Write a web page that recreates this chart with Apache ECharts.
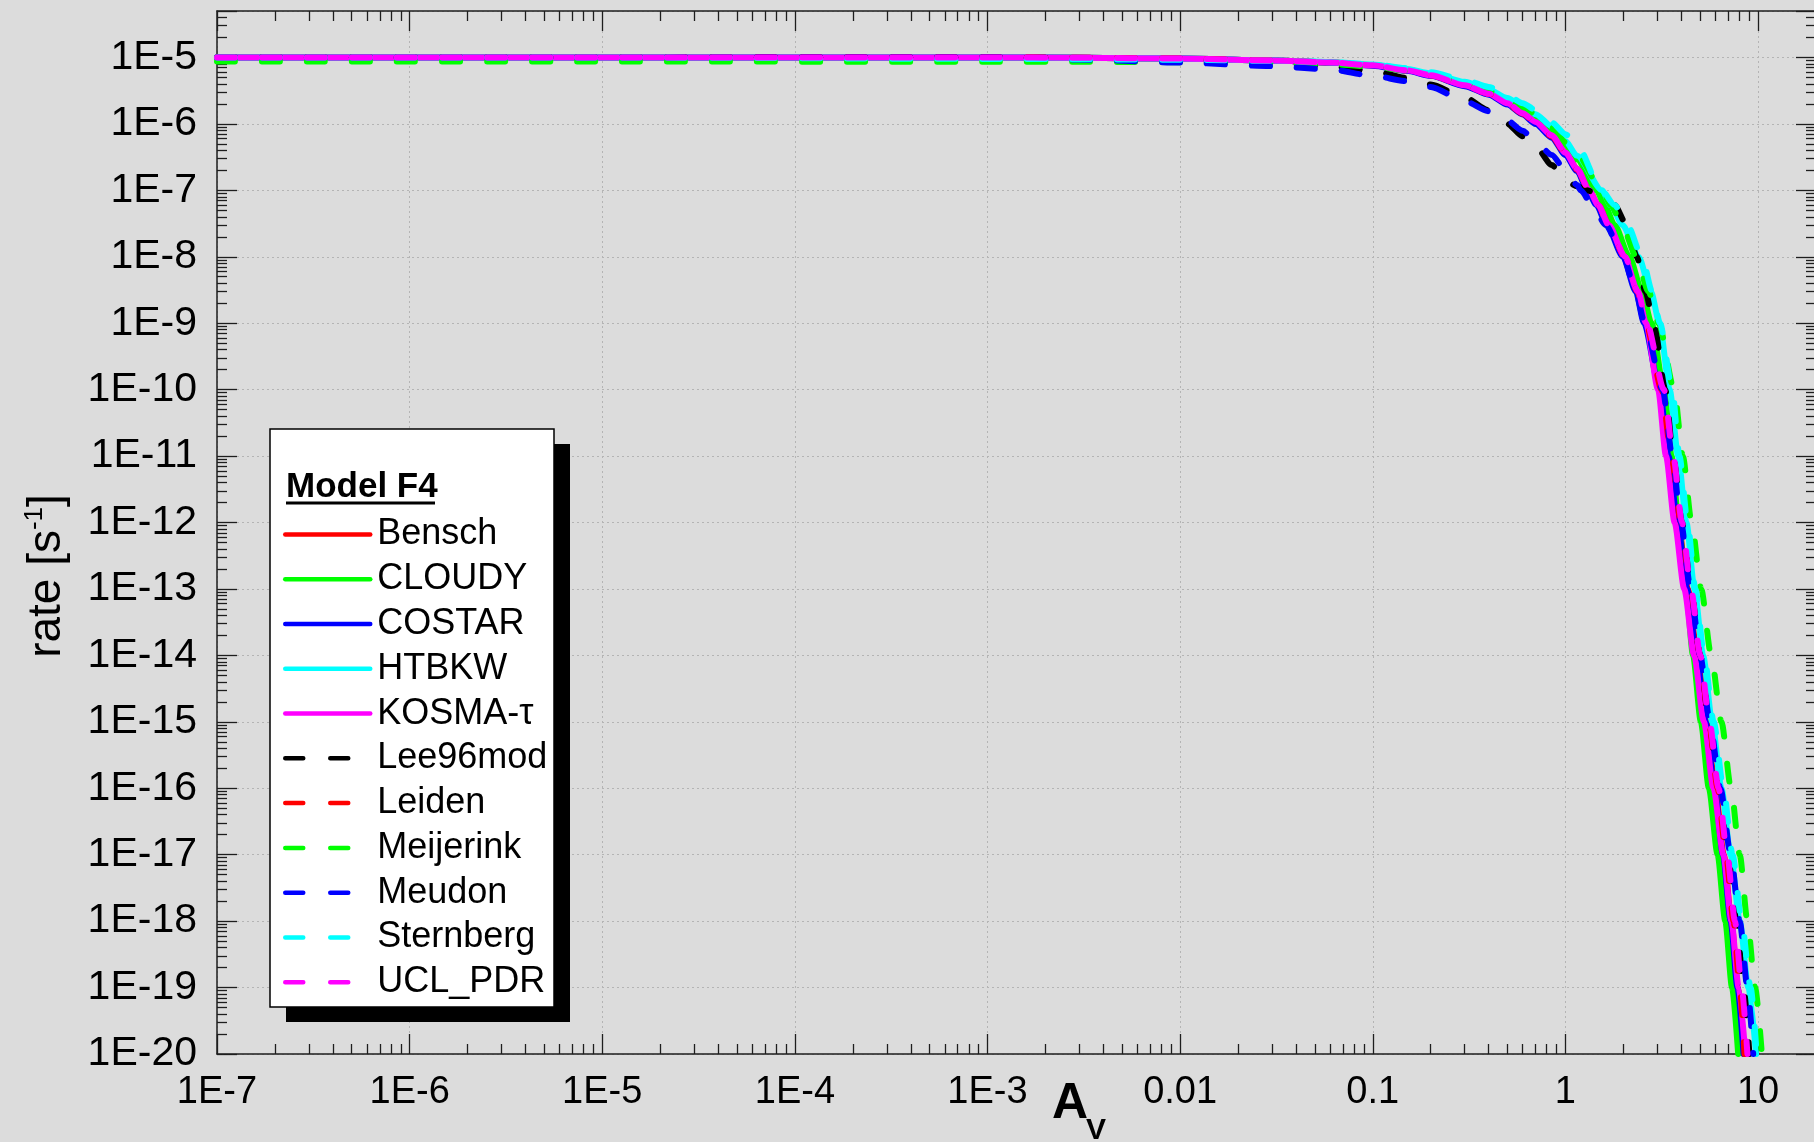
<!DOCTYPE html>
<html>
<head>
<meta charset="utf-8">
<script src="https://cdn.jsdelivr.net/npm/echarts@6/dist/echarts.min.js"></script>
<style>
html,body{margin:0;padding:0;background:#dcdcdc;}
#chart{width:1814px;height:1142px;}
</style>
</head>
<body>
<div id="chart"></div>
<script>
// ---------------- data ----------------
const seriesNames = ['Bensch','CLOUDY','COSTAR','HTBKW','KOSMA-τ','Lee96mod','Leiden','Meijerink','Meudon','Sternberg','UCL_PDR'];
const seriesColors = ['#ff0000','#00ff00','#0000ff','#00ffff','#ff00ff','#000000','#ff0000','#00ff00','#0000ff','#00ffff','#ff00ff'];
const seriesDashed = [false,false,false,false,false,true,true,true,true,true,true];

// A_V sample points of the flat (upper) part of every curve
const avFlat = [1e-7, 1e-5, 1e-3, 0.003, 0.01, 0.03, 0.06, 0.1, 0.15, 0.2, 0.3, 0.4, 0.5, 0.6, 0.7, 0.85, 1.0, 1.15];
// rate levels of the steep (lower) part of every curve
const rateSteep = [1e-7, 6e-8, 3e-8, 1e-8, 3e-9, 1e-9, 1e-10, 1e-11, 1e-12, 1e-13, 1e-14, 1e-15, 1e-16, 1e-17, 1e-18, 1e-19, 1e-20];

// rate at avFlat
const benschFlat    = [1.0e-5, 1.0e-5, 1.0e-5, 9.9e-6, 9.6e-6, 9.0e-6, 8.4e-6, 7.6e-6, 6.4e-6, 5.4e-6, 3.8e-6, 2.85e-6, 2.05e-6, 1.45e-6, 1.07e-6, 6.7e-7, 3.7e-7, 2.1e-7];
const cloudyFlat    = [1.0e-5, 1.0e-5, 1.0e-5, 9.9e-6, 9.6e-6, 9.0e-6, 8.4e-6, 7.7e-6, 6.6e-6, 5.6e-6, 4.0e-6, 3.05e-6, 2.25e-6, 1.65e-6, 1.25e-6, 8.2e-7, 4.8e-7, 2.9e-7];
const costarFlat    = [1.0e-5, 1.0e-5, 1.0e-5, 9.9e-6, 9.6e-6, 9.0e-6, 8.4e-6, 7.5e-6, 6.3e-6, 5.3e-6, 3.7e-6, 2.75e-6, 1.95e-6, 1.38e-6, 1.0e-6, 6.2e-7, 3.4e-7, 1.95e-7];
const htbkwFlat     = [1.0e-5, 1.0e-5, 1.0e-5, 9.9e-6, 9.6e-6, 9.0e-6, 8.5e-6, 7.8e-6, 6.7e-6, 5.8e-6, 4.3e-6, 3.3e-6, 2.45e-6, 1.8e-6, 1.4e-6, 9.2e-7, 5.5e-7, 3.3e-7];
const kosmaFlat     = [1.0e-5, 1.0e-5, 1.0e-5, 9.9e-6, 9.6e-6, 9.0e-6, 8.4e-6, 7.6e-6, 6.4e-6, 5.4e-6, 3.8e-6, 2.85e-6, 2.05e-6, 1.45e-6, 1.07e-6, 6.7e-7, 3.7e-7, 2.1e-7];
const lee96Flat     = [1.0e-5, 1.0e-5, 1.0e-5, 9.8e-6, 9.3e-6, 8.3e-6, 7.3e-6, 6.3e-6, 4.9e-6, 3.9e-6, 2.5e-6, 1.6e-6, 1.0e-6, 6.5e-7, 4.6e-7, 2.4e-7, 1.4e-7, 1.15e-7];
const leidenFlat    = [1.0e-5, 1.0e-5, 1.0e-5, 9.9e-6, 9.6e-6, 9.0e-6, 8.4e-6, 7.6e-6, 6.4e-6, 5.4e-6, 3.8e-6, 2.85e-6, 2.0e-6, 1.42e-6, 1.05e-6, 6.5e-7, 3.6e-7, 2.05e-7];
const meijerinkFlat = [8.7e-6, 8.7e-6, 8.6e-6, 8.6e-6, 8.5e-6, 8.2e-6, 7.9e-6, 7.3e-6, 6.4e-6, 5.5e-6, 4.1e-6, 3.1e-6, 2.3e-6, 1.75e-6, 1.4e-6, 8.8e-7, 5.3e-7, 3.5e-7];
const meudonFlat    = [1.0e-5, 1.0e-5, 1.0e-5, 9.3e-6, 8.4e-6, 7.4e-6, 6.6e-6, 5.3e-6, 4.4e-6, 3.6e-6, 2.2e-6, 1.55e-6, 1.12e-6, 7.9e-7, 5.4e-7, 3.4e-7, 2.0e-7, 1.2e-7];
const sternbergFlat = [1.0e-5, 1.0e-5, 9.5e-6, 9.4e-6, 9.2e-6, 8.9e-6, 8.5e-6, 7.9e-6, 6.9e-6, 6.0e-6, 4.6e-6, 3.6e-6, 2.7e-6, 2.05e-6, 1.62e-6, 1.05e-6, 7.0e-7, 4.8e-7];
const uclFlat       = [1.0e-5, 1.0e-5, 1.0e-5, 9.9e-6, 9.6e-6, 9.0e-6, 8.4e-6, 7.6e-6, 6.4e-6, 5.4e-6, 3.8e-6, 2.85e-6, 2.05e-6, 1.45e-6, 1.07e-6, 6.7e-7, 3.7e-7, 2.1e-7];

// A_V at rateSteep
const benschSteep    = [1.33, 1.48, 1.68, 2.03, 2.37, 2.62, 3.12, 3.47, 3.85, 4.32, 4.84, 5.41, 6.00, 6.64, 7.28, 7.85, 8.41];
const cloudySteep    = [1.45, 1.60, 1.80, 2.15, 2.50, 2.80, 3.25, 3.56, 3.87, 4.22, 4.60, 5.05, 5.56, 6.17, 6.76, 7.33, 7.89];
const costarSteep    = [1.30, 1.45, 1.64, 1.99, 2.32, 2.56, 3.09, 3.43, 3.82, 4.29, 4.79, 5.35, 5.94, 6.58, 7.21, 7.82, 8.41];
const htbkwSteep     = [1.55, 1.72, 1.98, 2.40, 2.78, 3.08, 3.48, 3.85, 4.25, 4.68, 5.19, 5.78, 6.46, 7.21, 8.04, 8.91, 9.77];
const kosmaSteep     = [1.33, 1.48, 1.68, 2.03, 2.37, 2.62, 3.03, 3.33, 3.69, 4.14, 4.66, 5.24, 5.87, 6.61, 7.28, 7.94, 8.59];
const lee96Steep     = [1.29, 1.80, 2.08, 2.35, 2.60, 2.88, 3.30, 3.63, 4.03, 4.49, 5.01, 5.56, 6.24, 6.97, 7.73, 8.41, 9.02];
const leidenSteep    = [1.33, 1.48, 1.68, 2.03, 2.37, 2.62, 3.16, 3.55, 3.98, 4.47, 5.01, 5.56, 6.17, 6.82, 7.46, 8.04, 8.51];
const meijerinkSteep = [1.55, 1.72, 1.97, 2.33, 2.70, 3.05, 3.67, 4.07, 4.52, 5.07, 5.71, 6.46, 7.24, 8.04, 8.81, 9.66, 10.47];
const meudonSteep    = [1.20, 1.38, 1.62, 2.00, 2.32, 2.58, 3.20, 3.59, 3.98, 4.47, 5.01, 5.62, 6.38, 7.21, 8.04, 8.81, 9.44];
const sternbergSteep = [1.54, 1.80, 2.10, 2.50, 2.82, 3.10, 3.59, 3.91, 4.31, 4.73, 5.25, 5.89, 6.61, 7.38, 8.22, 9.16, 9.84];
const uclSteep       = [1.33, 1.48, 1.68, 2.04, 2.38, 2.65, 3.25, 3.63, 4.03, 4.49, 5.01, 5.60, 6.24, 6.92, 7.59, 8.22, 8.81];

const xTickLabels = ['1E-7','1E-6','1E-5','1E-4','1E-3','0.01','0.1','1','10'];
const yTickLabels = ['1E-5','1E-6','1E-7','1E-8','1E-9','1E-10','1E-11','1E-12','1E-13','1E-14','1E-15','1E-16','1E-17','1E-18','1E-19','1E-20'];

const flatList  = [benschFlat, cloudyFlat, costarFlat, htbkwFlat, kosmaFlat, lee96Flat, leidenFlat, meijerinkFlat, meudonFlat, sternbergFlat, uclFlat];
const steepList = [benschSteep, cloudySteep, costarSteep, htbkwSteep, kosmaSteep, lee96Steep, leidenSteep, meijerinkSteep, meudonSteep, sternbergSteep, uclSteep];

// ---------------- chart ----------------
const FONT = '"Liberation Sans", Arial, Helvetica, sans-serif';
const xMin = 1e-7, xMax = 20, yMin = 1e-20, yMax = 5e-5;
const axisColor = '#1e1e1e';

function exponentOf(v) {
  const l = Math.log10(v);
  const e = Math.round(l);
  return Math.abs(l - e) < 1e-6 ? e : null;
}
function minorLogValues(lo, hi) {
  const out = [];
  for (let e = Math.floor(Math.log10(lo)); e <= Math.ceil(Math.log10(hi)); e++) {
    for (let m = 2; m <= 9; m++) {
      const v = m * Math.pow(10, e);
      if (v > lo * 1.0001 && v < hi * 0.9999) out.push(Math.log10(v));
    }
  }
  return out;
}

function logAxis(dim, pos, withLabels) {
  const isX = dim === 'x';
  return {
    type: 'log', logBase: 10,
    min: isX ? xMin : yMin, max: isX ? xMax : yMax, interval: 1,
    position: pos, gridIndex: 0,
    axisLine: { show: true, onZero: false, lineStyle: { color: axisColor, width: 1.5 } },
    axisTick: { show: true, inside: true, length: 20, lineStyle: { color: axisColor, width: 1.3 } },
    minorTick: { show: false },
    splitLine: { show: withLabels, lineStyle: { color: '#b4b4b4', width: 1, type: [2, 3] } },
    minorSplitLine: { show: false },
    axisLabel: {
      show: withLabels, margin: isX ? 20 : 20, fontSize: isX ? 38 : 41, color: '#000', fontFamily: FONT,
      hideOverlap: false, showMinLabel: true, showMaxLabel: true,
      formatter: function (v) {
        const e = exponentOf(v);
        if (e === null) return '';
        const arr = isX ? xTickLabels : yTickLabels;
        const idx = isX ? e + 7 : -5 - e;
        return arr[idx] || '';
      }
    },
    silent: true
  };
}
function minorAxis(dim, pos) {
  const isX = dim === 'x';
  const lo = isX ? xMin : yMin, hi = isX ? xMax : yMax;
  return {
    type: 'value', min: Math.log10(lo), max: Math.log10(hi),
    position: pos, gridIndex: 0,
    axisLine: { show: false, onZero: false },
    axisLabel: { show: false },
    splitLine: { show: false },
    axisTick: { show: true, inside: true, length: 10, customValues: minorLogValues(lo, hi),
                lineStyle: { color: axisColor, width: 1.3 } },
    silent: true
  };
}

const series = seriesNames.map(function (name, i) {
  const pts = avFlat.map(function (x, j) { return [x, flatList[i][j]]; })
    .concat(rateSteep.map(function (y, j) { return [steepList[i][j], y]; }));
  return {
    type: 'line', name: name, xAxisIndex: 0, yAxisIndex: 0,
    symbol: 'none', showSymbol: false, data: pts, clip: true, silent: true,
    smooth: 0.25, smoothMonotone: 'x',
    lineStyle: { color: seriesColors[i], width: 6, type: seriesDashed[i] ? [18, 27] : 'solid', cap: 'round', join: 'round' },
    itemStyle: { color: seriesColors[i] },
    emphasis: { disabled: true },
    z: 2
  };
});

const chart = echarts.init(document.getElementById('chart'), null, { renderer: 'canvas' });
chart.setOption({
  animation: false,
  backgroundColor: '#dcdcdc',
  grid: { left: 217, top: 11, right: -2, bottom: 88, containLabel: false, outerBoundsMode: 'none' },
  xAxis: [logAxis('x', 'bottom', true), logAxis('x', 'top', false), minorAxis('x', 'bottom'), minorAxis('x', 'top')],
  yAxis: [logAxis('y', 'left', true), logAxis('y', 'right', false), minorAxis('y', 'left'), minorAxis('y', 'right')],
  legend: {
    orient: 'vertical', left: 283, top: 514.5, itemWidth: 85, itemHeight: 14, itemGap: 4.77, padding: 0,
    selectedMode: false, z: 10,
    itemStyle: { opacity: 0, borderWidth: 0 },
    lineStyle: { width: 4.5 },
    textStyle: { fontSize: 36, fontFamily: FONT, color: '#000', lineHeight: 40, padding: [0, 0, 0, 2] },
    data: seriesNames
  },
  graphic: [
    { type: 'rect', silent: true, z: 5, shape: { x: 286, y: 444, width: 284, height: 578 }, style: { fill: '#000' } },
    { type: 'rect', silent: true, z: 6, shape: { x: 270, y: 429, width: 284, height: 578 }, style: { fill: '#fff', stroke: '#000', lineWidth: 1.5 } },
    { type: 'text', silent: true, z: 7, x: 286, y: 487,
      style: { text: 'Model F4', font: 'bold 35px ' + FONT, fill: '#000', align: 'left', verticalAlign: 'middle', textAlign: 'left', textVerticalAlign: 'middle' } },
    { type: 'line', silent: true, z: 7, shape: { x1: 286, y1: 503, x2: 435, y2: 503 }, style: { stroke: '#000', lineWidth: 3 } },
    { type: 'text', silent: true, z: 7, x: 47, y: 576, rotation: Math.PI / 2,
      style: { text: '{a|rate [s}{b|-1}{a|]}', fill: '#000', align: 'center', verticalAlign: 'middle', textAlign: 'center', textVerticalAlign: 'middle',
        rich: { a: { fontSize: 46, fontFamily: FONT, color: '#000', lineHeight: 50 },
                b: { fontSize: 26, fontFamily: FONT, color: '#000', verticalAlign: 'top', lineHeight: 26 } } } },
    { type: 'text', silent: true, z: 7, x: 1070, y: 1104,
      style: { text: 'A', font: 'bold 50px ' + FONT, fill: '#000', align: 'center', verticalAlign: 'middle', textAlign: 'center', textVerticalAlign: 'middle' } },
    { type: 'text', silent: true, z: 7, x: 1096, y: 1131,
      style: { text: 'V', font: 'bold 30px ' + FONT, fill: '#000', align: 'center', verticalAlign: 'middle', textAlign: 'center', textVerticalAlign: 'middle' } }
  ],
  series: series
});
</script>
</body>
</html>
